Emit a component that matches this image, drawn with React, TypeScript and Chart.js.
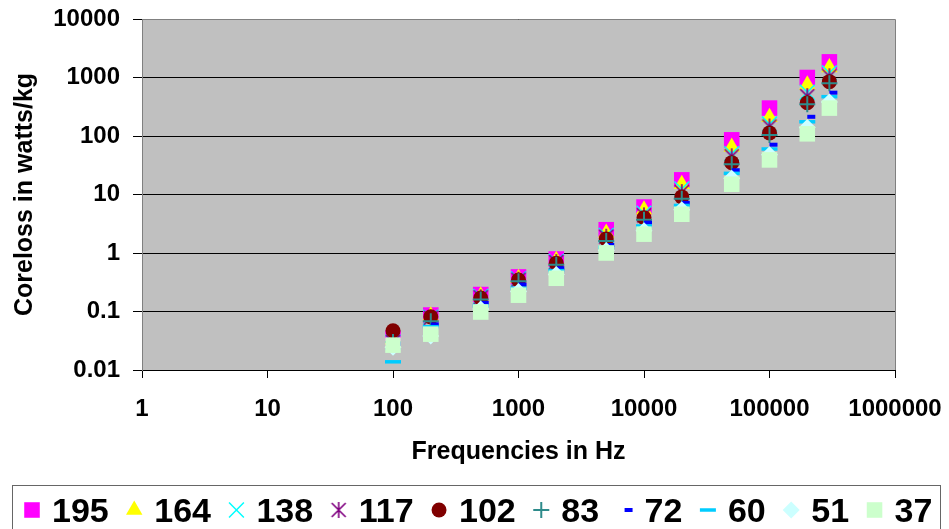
import React, { useEffect, useRef } from 'react';
import { Chart, registerables } from 'chart.js';
import { drawPoint } from 'chart.js/helpers';

Chart.register(...registerables);

// ---- data ----
const frequencies = [100, 200, 500, 1000, 2000, 5000, 10000, 20000, 50000, 100000, 200000, 300000];

const series195 = [0.035, 0.087, 0.195, 0.39, 0.79, 2.5, 6.1, 17.8, 86, 300, 1000, 1850];
const series164 = [0.033, 0.085, 0.185, 0.37, 0.75, 2.2, 5.5, 15, 65, 210, 750, 1480];
const series138 = [0.03, 0.08, 0.18, 0.36, 0.72, 2.0, 4.8, 12.5, 50, 160, 560, 1200];
const series117 = [0.03, 0.078, 0.175, 0.35, 0.7, 1.9, 4.4, 11, 45, 145, 480, 1050];
const series102 = [0.047, 0.081, 0.17, 0.345, 0.67, 1.74, 4.0, 9.1, 35, 113, 370, 850];
const series83 = [0.03, 0.068, 0.16, 0.33, 0.63, 1.6, 3.7, 8.5, 33, 104, 350, 800];
const series72 = [0.028, 0.06, 0.14, 0.29, 0.55, 1.37, 3.3, 7.2, 26, 71, 213, 550];
const series60 = [0.0138, 0.055, 0.125, 0.25, 0.5, 1.25, 2.9, 6.5, 23, 60, 175, 470];
const series51 = [0.0245, 0.038, 0.11, 0.22, 0.43, 1.1, 2.4, 5.5, 19, 48, 140, 380];
const series37 = [0.0266, 0.041, 0.098, 0.19, 0.37, 1.0, 2.1, 4.6, 15, 39, 109, 300];

const seriesLabels = ['195', '164', '138', '117', '102', '83', '72', '60', '51', '37'];
const seriesValues = [series195, series164, series138, series117, series102, series83, series72, series60, series51, series37];

const xTickValues = [1, 10, 100, 1000, 10000, 100000, 1000000];
const xTickLabels = ['1', '10', '100', '1000', '10000', '100000', '1000000'];
const yTickValues = [0.01, 0.1, 1, 10, 100, 1000, 10000];
const yTickLabels = ['0.01', '0.1', '1', '10', '100', '1000', '10000'];

const xTitle = 'Frequencies in Hz';
const yTitle = 'Coreloss in watts/kg';

// ---- styles ----
const FONT = "'Liberation Sans', Arial, Helvetica, sans-serif";

function makeStar(color: string): HTMLCanvasElement {
  const c = document.createElement('canvas');
  c.width = 18;
  c.height = 18;
  const g = c.getContext('2d')!;
  g.strokeStyle = color;
  g.lineWidth = 1.6;
  g.beginPath();
  g.moveTo(2, 2); g.lineTo(16, 16);
  g.moveTo(16, 2); g.lineTo(2, 16);
  g.moveTo(9, 1); g.lineTo(9, 17);
  g.stroke();
  return c;
}

type MarkerStyle = { pointStyle: any; radius: number; bg: string; border: string; bw: number };

function buildMarkers(): MarkerStyle[] {
  return [
    { pointStyle: 'rect', radius: 11, bg: '#FF00FF', border: '#FF00FF', bw: 0 },
    { pointStyle: 'triangle', radius: 9.5, bg: '#FFFF00', border: '#FFFF00', bw: 0 },
    { pointStyle: 'crossRot', radius: 10.5, bg: '#00FFFF', border: '#00FFFF', bw: 1.5 },
    { pointStyle: makeStar('#800080'), radius: 9, bg: '#800080', border: '#800080', bw: 1.5 },
    { pointStyle: 'circle', radius: 7.5, bg: '#800000', border: '#800000', bw: 0 },
    { pointStyle: 'cross', radius: 8, bg: '#2E8B8B', border: '#2E8B8B', bw: 2 },
    { pointStyle: 'dash', radius: 8, bg: '#0000FF', border: '#0000FF', bw: 4 },
    { pointStyle: 'line', radius: 8, bg: '#00CCFF', border: '#00CCFF', bw: 3.5 },
    { pointStyle: 'rectRot', radius: 8.5, bg: '#CCFFFF', border: '#CCFFFF', bw: 0 },
    { pointStyle: 'rect', radius: 11, bg: '#CCFFCC', border: '#CCFFCC', bw: 0 },
  ];
}

export default function App() {
  const canvasRef = useRef<HTMLCanvasElement | null>(null);

  useEffect(() => {
    const canvas = canvasRef.current;
    if (!canvas) return;
    const markers = buildMarkers();

    const datasets = seriesLabels.map((label, i) => ({
      label,
      data: frequencies.map((f, j) => ({ x: f, y: seriesValues[i][j] })),
      showLine: false,
      pointStyle: markers[i].pointStyle,
      pointRadius: markers[i].radius,
      pointHoverRadius: markers[i].radius,
      backgroundColor: markers[i].bg,
      borderColor: markers[i].border,
      pointBorderWidth: markers[i].bw,
      borderWidth: markers[i].bw,
      order: seriesLabels.length - i,
    }));

    const areaPlugin = {
      id: 'areaPlugin',
      beforeDraw(chart: any) {
        const { ctx, chartArea } = chart;
        ctx.save();
        ctx.fillStyle = '#C0C0C0';
        ctx.fillRect(chartArea.left, chartArea.top, chartArea.right - chartArea.left, chartArea.bottom - chartArea.top);
        ctx.restore();
      },
      afterDraw(chart: any) {
        const { ctx, chartArea } = chart;
        ctx.save();
        ctx.strokeStyle = '#808080';
        ctx.lineWidth = 1;
        ctx.beginPath();
        ctx.moveTo(chartArea.left, Math.round(chartArea.top) + 0.5);
        ctx.lineTo(Math.round(chartArea.right) + 0.5, Math.round(chartArea.top) + 0.5);
        ctx.lineTo(Math.round(chartArea.right) + 0.5, chartArea.bottom);
        ctx.stroke();

        // legend
        const boxTop = 485.5;
        ctx.strokeStyle = '#666666';
        ctx.lineWidth = 1;
        ctx.strokeRect(12.5, boxTop, 928, 60);
        ctx.font = `bold 34px ${FONT}`;
        ctx.textBaseline = 'alphabetic';
        ctx.textAlign = 'left';
        let cx = 32;
        const cy = 510;
        seriesLabels.forEach((label, i) => {
          const m = markers[i];
          ctx.save();
          ctx.fillStyle = m.bg;
          ctx.strokeStyle = m.border;
          ctx.lineWidth = m.bw;
          drawPoint(ctx, { pointStyle: m.pointStyle, radius: m.radius, rotation: 0, borderWidth: m.bw } as any, cx, cy);
          ctx.restore();
          const tx = cx + 20;
          ctx.fillStyle = '#000';
          ctx.fillText(label, tx, 522);
          const w = ctx.measureText(label).width;
          cx = tx + w + 25.5;
        });
        ctx.restore();
      },
    };

    const findIdx = (arr: number[], v: number) => arr.findIndex((a) => Math.abs(Math.log10(a) - Math.log10(v)) < 1e-6);

    const chart = new Chart(canvas, {
      type: 'scatter',
      data: { datasets },
      options: {
        responsive: false,
        maintainAspectRatio: false,
        animation: false,
        events: [],
        layout: { padding: { left: 0, right: 54, top: 19, bottom: 44 } },
        plugins: {
          legend: { display: false },
          tooltip: { enabled: false },
        },
        scales: {
          x: {
            type: 'logarithmic',
            position: 'bottom',
            min: 1,
            max: 1000000,
            afterBuildTicks: (s: any) => {
              s.ticks = xTickValues.map((v) => ({ value: v }));
            },
            afterFit: (s: any) => {
              s.height = 115;
              s.paddingLeft = 0;
              s.paddingRight = 0;
            },
            ticks: {
              callback: (v: any) => xTickLabels[findIdx(xTickValues, Number(v))],
              font: { family: FONT, size: 24, weight: 'bold' },
              color: '#000',
              padding: 17,
              maxRotation: 0,
              autoSkip: false,
            },
            grid: { drawOnChartArea: false, drawTicks: true, tickLength: 8, tickColor: '#000' },
            border: { color: '#000', width: 1 },
            title: {
              display: true,
              text: xTitle,
              font: { family: FONT, size: 25, weight: 'bold' },
              color: '#000',
              padding: { top: 0, bottom: 18 },
            },
          },
          y: {
            type: 'logarithmic',
            position: 'left',
            min: 0.01,
            max: 10000,
            afterBuildTicks: (s: any) => {
              s.ticks = yTickValues.map((v) => ({ value: v }));
            },
            afterFit: (s: any) => {
              s.width = 142;
              s.paddingTop = 0;
              s.paddingBottom = 0;
            },
            ticks: {
              callback: (v: any) => yTickLabels[findIdx(yTickValues, Number(v))],
              font: { family: FONT, size: 24, weight: 'bold' },
              color: '#000',
              padding: 13,
              autoSkip: false,
            },
            grid: { color: '#000', lineWidth: 1, drawTicks: true, tickLength: 9, tickColor: '#000' },
            border: { color: '#808080', width: 1 },
            title: {
              display: true,
              text: yTitle,
              font: { family: FONT, size: 25, weight: 'bold' },
              color: '#000',
              padding: { top: 10, bottom: 0 },
            },
          },
        },
      } as any,
      plugins: [areaPlugin],
    });

    return () => {
      chart.destroy();
    };
  }, []);

  return (
    <div style={{ position: 'fixed', left: 0, top: 0, width: 949, height: 529, background: '#fff' }}>
      <canvas ref={canvasRef} width={949} height={529} style={{ width: 949, height: 529, display: 'block' }} />
    </div>
  );
}
